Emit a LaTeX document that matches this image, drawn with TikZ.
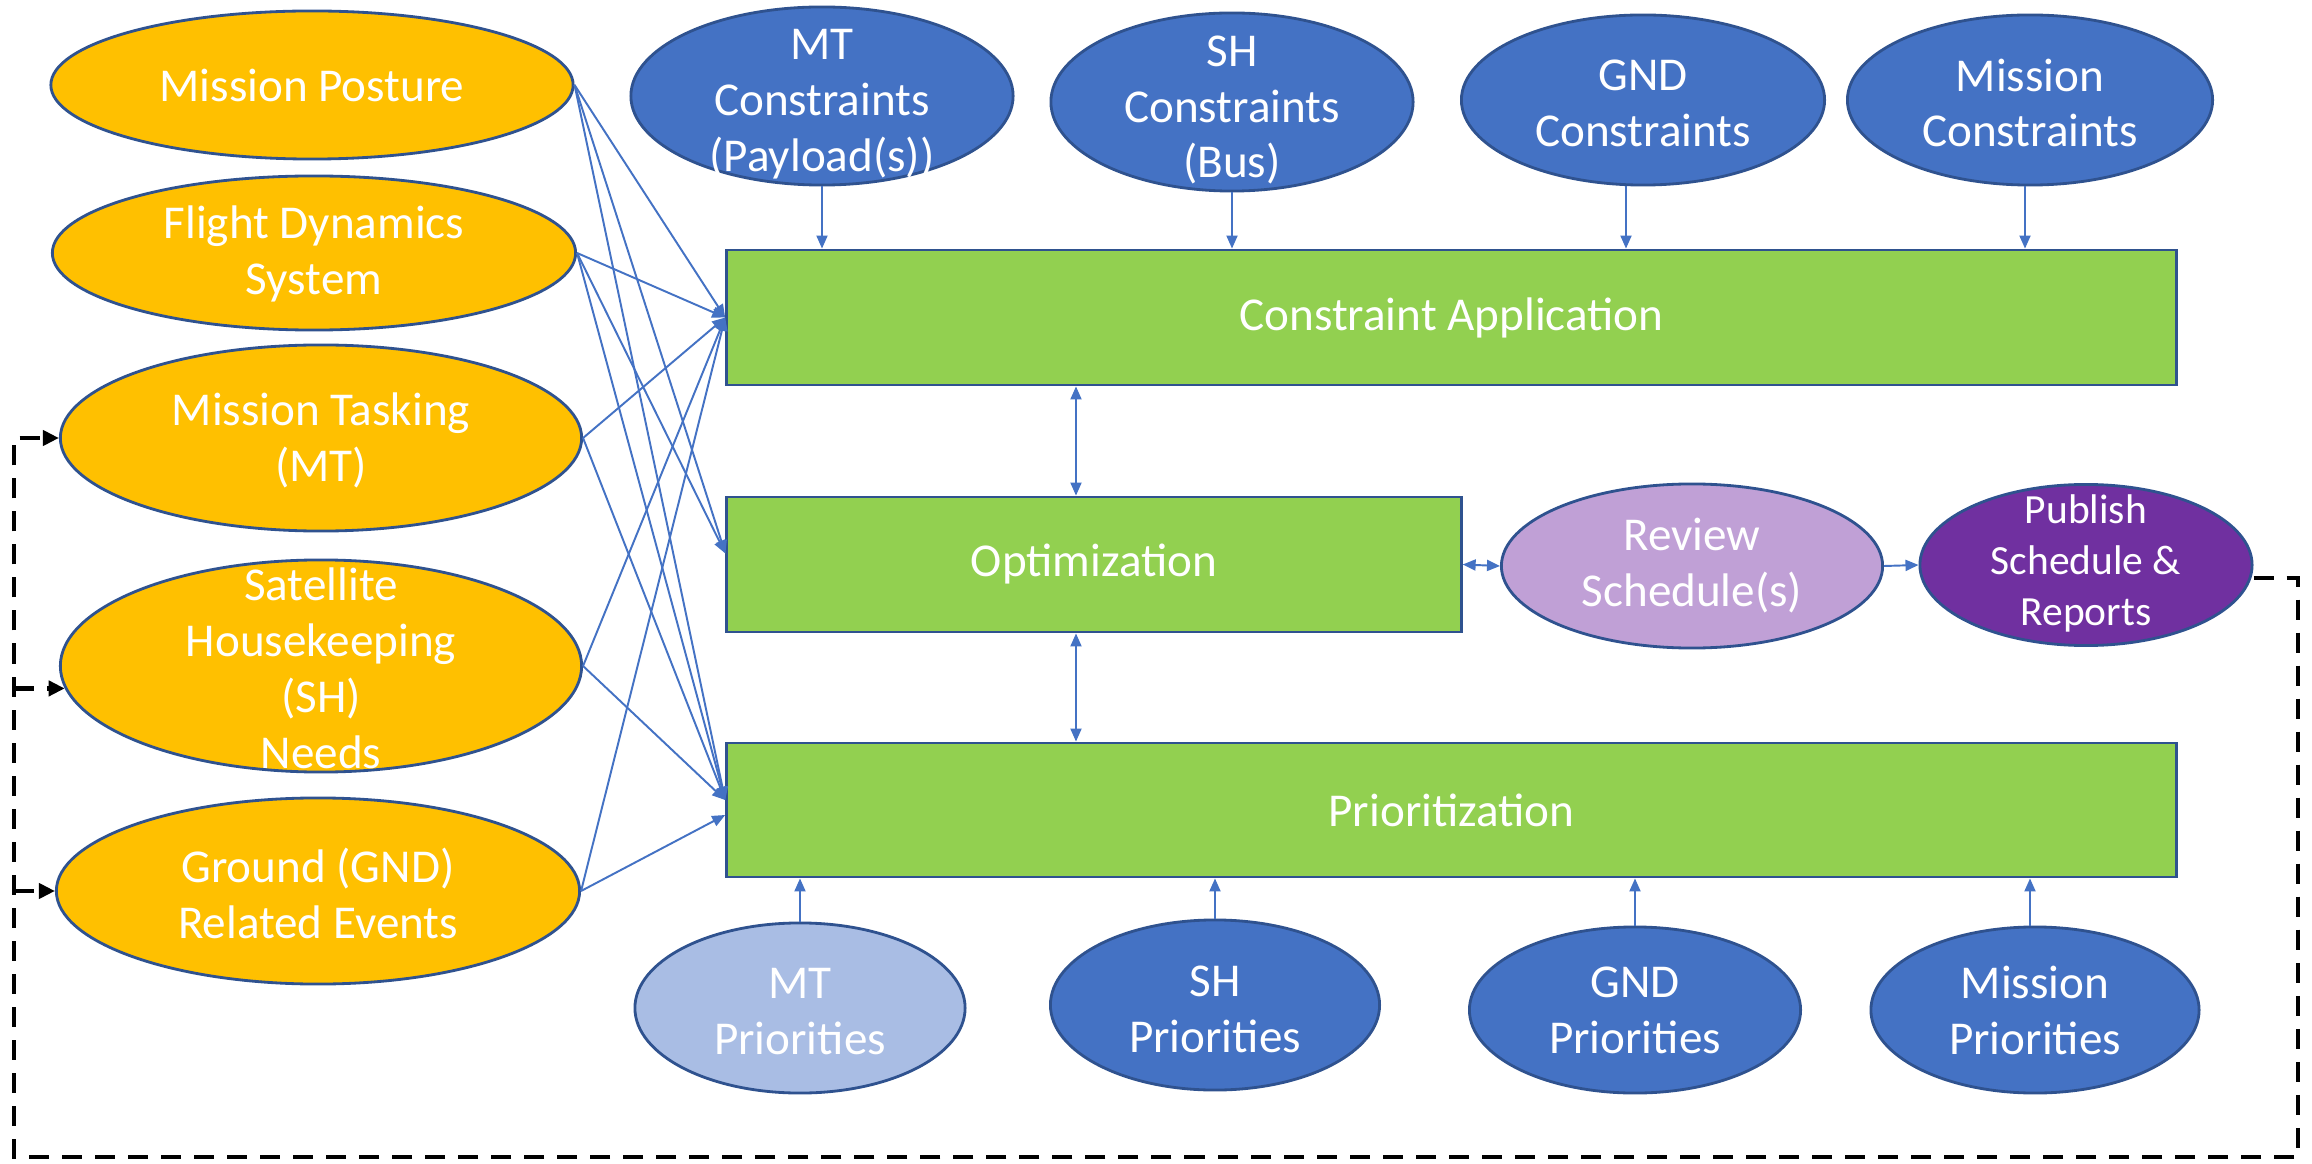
\documentclass[tikz,border=0pt]{standalone}
\usepackage{fontspec}
\setmainfont{Carlito}
\usetikzlibrary{shapes.geometric,arrows.meta}

\definecolor{org}{HTML}{FFC000}
\definecolor{blu}{HTML}{4472C4}
\definecolor{ltblu}{HTML}{A9BDE4}
\definecolor{grn}{HTML}{92D050}
\definecolor{lilac}{HTML}{C0A0D6}
\definecolor{plum}{HTML}{7030A0}
\definecolor{olc}{HTML}{2F528F}
\definecolor{lnk}{HTML}{4472C4}

\tikzset{
  oval/.style={ellipse, draw=olc, line width=0.8pt, inner sep=0pt},
  lbl/.style={text=white, align=center, inner sep=0pt,
              font=\fontsize{13.4}{15.9}\selectfont},
  smalllbl/.style={text=white, align=center, inner sep=0pt,
              font=\fontsize{11.8}{14.5}\selectfont},
  box/.style={rectangle, draw=olc, fill=grn, line width=0.8pt, inner sep=0pt,
              text=white, font=\fontsize{13.4}{15.9}\selectfont},
  link/.style={draw=lnk, line width=0.55pt,
               -{Triangle[length=0.13cm,width=0.11cm]}},
  dlink/.style={draw=lnk, line width=0.55pt,
               {Triangle[length=0.13cm,width=0.11cm]}-{Triangle[length=0.13cm,width=0.11cm]}},
  fb/.style={draw=black, line width=1.2pt, dash pattern=on 0.2cm off 0.13cm},
  fbtip/.style={-{Triangle[length=0.16cm,width=0.15cm]}}
}

\begin{document}
\begin{tikzpicture}[x=0.01cm,y=-0.01cm]
\useasboundingbox (0,0) rectangle (2312,1164);
\fill[white] (0,0) rectangle (2312,1164);

% ---- input sources (left column)
\node[oval, fill=org, minimum width=5.22cm, minimum height=1.48cm] (mp) at (312,85) {};
\node[lbl] (mp-t) at (312,85) {Mission Posture};
\node[oval, fill=org, minimum width=5.23cm, minimum height=1.54cm] (fd) at (314,253) {};
\node[lbl] (fd-t) at (314,254) {Flight Dynamics\\System};
\node[oval, fill=org, minimum width=5.21cm, minimum height=1.86cm] (mt) at (321,438) {};
\node[lbl] (mt-t) at (321,440) {Mission Tasking\\(MT)};
\node[oval, fill=org, minimum width=5.21cm, minimum height=2.12cm] (sh) at (321,666) {};
\node[lbl] (sh-t) at (321,668) {Satellite\\Housekeeping\\(SH)\\Needs};
\node[oval, fill=org, minimum width=5.23cm, minimum height=1.86cm] (gnd) at (318,891) {};
\node[lbl] (gnd-t) at (318,893) {Ground (GND)\\Related Events};

% ---- constraints (top row)
\node[oval, fill=blu, minimum width=3.82cm, minimum height=1.78cm] (mtc) at (822,96) {};
\node[lbl] (mtc-t) at (822,104) {MT\\Constraints\\(Payload(s))};
\node[oval, fill=blu, minimum width=3.62cm, minimum height=1.78cm] (shc) at (1232,102) {};
\node[lbl] (shc-t) at (1232,110) {SH\\Constraints\\(Bus)};
\node[oval, fill=blu, minimum width=3.63cm, minimum height=1.70cm] (gndc) at (1643,100) {};
\node[lbl] (gndc-t) at (1643,103) {GND\\Constraints};
\node[oval, fill=blu, minimum width=3.65cm, minimum height=1.70cm] (misc) at (2030,100) {};
\node[lbl] (misc-t) at (2030,103) {Mission\\Constraints};

% ---- processing stages
\node[box, minimum width=14.49cm, minimum height=1.35cm] (ca) at (1451.5,317.5) {Constraint Application};
\node[box, minimum width=7.34cm, minimum height=1.35cm] (opt) at (1094,564.5) {Optimization};
\node[box, minimum width=14.49cm, minimum height=1.34cm] (prio) at (1451.5,810) {Prioritization};

% ---- review and publication
\node[oval, fill=lilac, minimum width=3.81cm, minimum height=1.64cm] (rev) at (1692,566) {};
\node[lbl] (rev-t) at (1692,566) {Review\\Schedule(s)};
\node[oval, fill=plum, minimum width=3.32cm, minimum height=1.61cm] (pub) at (2086,565) {};
\node[smalllbl] (pub-t) at (2086,563) {Publish\\Schedule \&\\Reports};

% ---- priorities (bottom row)
\node[oval, fill=ltblu, minimum width=3.30cm, minimum height=1.70cm] (mtp) at (800,1008) {};
\node[lbl] (mtp-t) at (800,1012) {MT\\Priorities};
\node[oval, fill=blu, minimum width=3.29cm, minimum height=1.70cm] (shp) at (1215,1005) {};
\node[lbl] (shp-t) at (1215,1009) {SH\\Priorities};
\node[oval, fill=blu, minimum width=3.31cm, minimum height=1.66cm] (gndp) at (1635,1010) {};
\node[lbl] (gndp-t) at (1635,1010) {GND\\Priorities};
\node[oval, fill=blu, minimum width=3.28cm, minimum height=1.66cm] (misp) at (2035,1010) {};
\node[lbl] (misp-t) at (2035,1010) {Mission\\Priorities};

% ---- inputs fanning into the stages
\draw[link] (mp.east) -- (ca.west);
\draw[link] (mp.east) -- ([yshift=0.11cm]opt.west);
\draw[link] (mp.east) -- ([yshift=0.1cm]prio.west);
\draw[link] (fd.east) -- (ca.west);
\draw[link] (fd.east) -- ([yshift=0.11cm]opt.west);
\draw[link] (fd.east) -- ([yshift=0.1cm]prio.west);
\draw[link] (mt.east) -- (ca.west);
\draw[link] (mt.east) -- ([yshift=0.1cm]prio.west);
\draw[link] (sh.east) -- (ca.west);
\draw[link] (sh.east) -- ([yshift=0.1cm]prio.west);
\draw[link] (gnd.east) -- (ca.west);
\draw[link] (gnd.east) -- ([yshift=-0.05cm]prio.west);

% ---- constraints into constraint application
\draw[link] (mtc.south) -- (mtc.south |- ca.north);
\draw[link] (shc.south) -- (shc.south |- ca.north);
\draw[link] ([xshift=-0.17cm]gndc.south) -- ([xshift=-0.17cm]gndc.south |- ca.north);
\draw[link] ([xshift=-0.05cm]misc.south) -- ([xshift=-0.05cm]misc.south |- ca.north);

% ---- priorities into prioritization
\draw[link] (mtp.north) -- (mtp.north |- prio.south);
\draw[link] (shp.north) -- (shp.north |- prio.south);
\draw[link] (gndp.north) -- (gndp.north |- prio.south);
\draw[link] ([xshift=-0.05cm]misp.north) -- ([xshift=-0.05cm]misp.north |- prio.south);

% ---- exchanges between stages
\draw[dlink] ([xshift=-0.18cm]opt.north) -- ([xshift=-0.18cm]opt.north |- ca.south);
\draw[dlink] ([xshift=-0.18cm]opt.south) -- ([xshift=-0.18cm]opt.south |- prio.north);
\draw[dlink] (opt.east) -- (rev.west);
\draw[link] (rev.east) -- (pub.west);

% ---- feedback loop
\coordinate (fbR) at (2298,1157);
\coordinate (fbL) at (14,1157);
\draw[fb, fbtip] ([yshift=-0.13cm]pub.east) -| (fbR) -- (fbL) |- (mt.west);
\draw[fb, fbtip] (fbL |- sh.185) -- (sh.185);
\draw[fb, fbtip] (fbL |- gnd.west) -- (gnd.west);
\end{tikzpicture}
\end{document}
